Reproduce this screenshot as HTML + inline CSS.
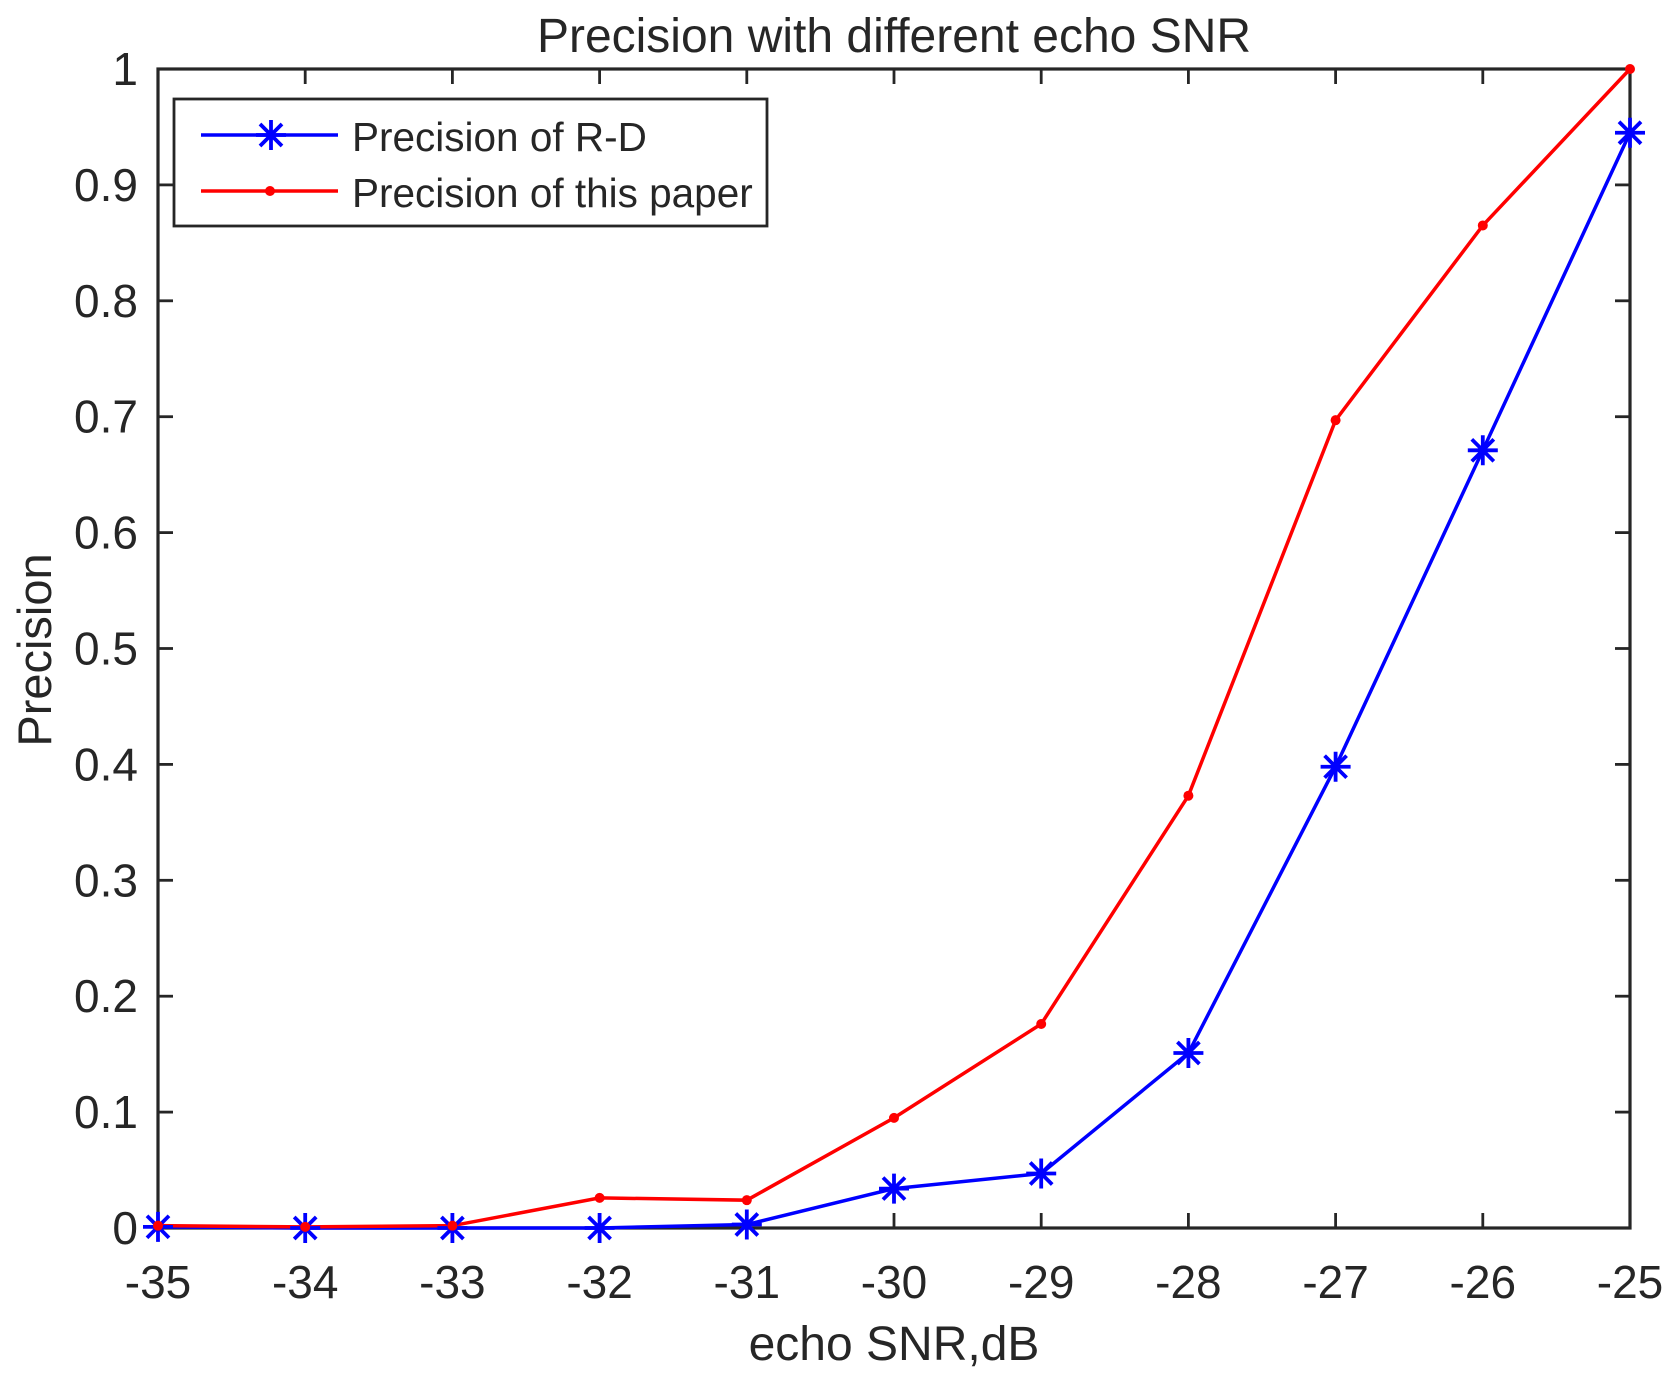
<!DOCTYPE html>
<html><head><style>body{margin:0;background:#fff}svg{display:block}text{font-family:"Liberation Sans",sans-serif;fill:#262626}</style></head>
<body>
<svg width="1671" height="1378" viewBox="0 0 1671 1378" xmlns="http://www.w3.org/2000/svg">
<defs>
<g id="st"><path d="M-15 0H15M0-15V15M-11-11L11 11M-11 11L11-11" stroke="#0000ff" stroke-width="3.8"/></g>
</defs>
<rect x="158" y="69" width="1472" height="1159" fill="#fff" stroke="#262626" stroke-width="3.2"/>
<g stroke="#262626" stroke-width="2.8" id="ticks"></g>
<g id="lbl" font-size="46"></g>
<text x="894" y="52" font-size="48" text-anchor="middle" fill="#000">Precision with different echo SNR</text>
<text x="894" y="1360" font-size="48" text-anchor="middle">echo SNR,dB</text>
<text transform="translate(51,650) rotate(-90)" font-size="47" text-anchor="middle">Precision</text>
<g id="data"></g>
<rect x="174" y="99" width="593" height="127" fill="#fff" stroke="#262626" stroke-width="2.8"/>
<line x1="201" y1="135" x2="338" y2="135" stroke="#0000ff" stroke-width="3.5"/>
<use href="#st" x="271" y="135"/>
<line x1="201" y1="191" x2="338" y2="191" stroke="#ff0000" stroke-width="3.5"/>
<circle cx="270" cy="191" r="5" fill="#ff0000"/>
<text x="352" y="151" font-size="40.5" fill="#000">Precision of R-D</text>
<text x="352" y="207" font-size="40.5" fill="#000">Precision of this paper</text>
</svg>
<script>
const ns="http://www.w3.org/2000/svg";
const X=v=>158+(v+35)*147.2, Y=p=>1228-p*1159;
const t=document.getElementById('ticks'),l=document.getElementById('lbl'),d=document.getElementById('data');
function el(p,tag,a,txt){const e=document.createElementNS(ns,tag);for(const k in a)e.setAttribute(k,a[k]);if(txt!=null)e.textContent=txt;p.appendChild(e);return e;}
for(let i=0;i<=10;i++){const x=X(-35+i);
el(t,'line',{x1:x,y1:1228,x2:x,y2:1213});el(t,'line',{x1:x,y1:69,x2:x,y2:84});
el(l,'text',{x:x,y:1298,'text-anchor':'middle'},String(-35+i));
const y=Y(i/10);el(t,'line',{x1:158,y1:y,x2:173,y2:y});el(t,'line',{x1:1630,y1:y,x2:1615,y2:y});
el(l,'text',{x:138,y:y+16,'text-anchor':'end'},i==0?'0':i==10?'1':(i/10).toFixed(1));}
const r=[0.002,0.001,0.002,0.026,0.024,0.095,0.176,0.373,0.697,0.865,1.0];
const b=[0.001,0,0,0,0.003,0.034,0.047,0.151,0.398,0.671,0.945];
el(d,'polyline',{points:b.map((p,i)=>X(-35+i)+','+Y(p)).join(' '),fill:'none',stroke:'#0000ff','stroke-width':3.5});
el(d,'polyline',{points:r.map((p,i)=>X(-35+i)+','+Y(p)).join(' '),fill:'none',stroke:'#ff0000','stroke-width':3.5});
b.forEach((p,i)=>el(d,'use',{href:'#st',x:X(-35+i),y:Y(p)}));
r.forEach((p,i)=>el(d,'circle',{cx:X(-35+i),cy:Y(p),r:5,fill:'#ff0000'}));
</script>
</body></html>
